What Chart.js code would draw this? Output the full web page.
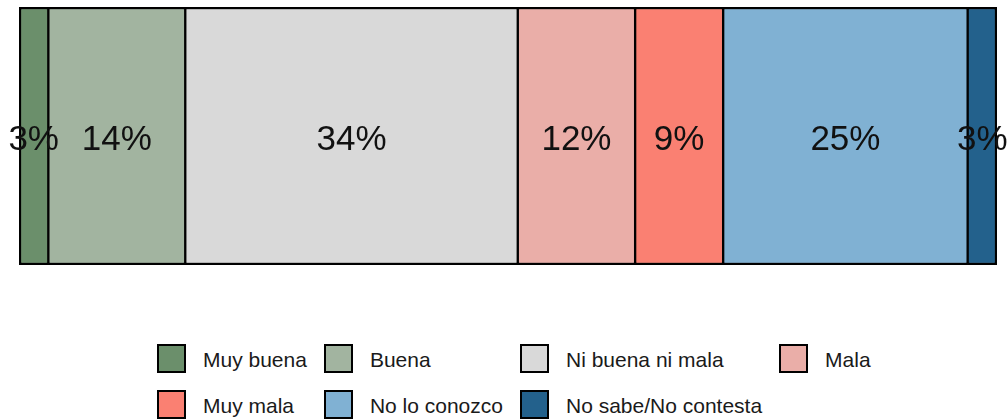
<!DOCTYPE html>
<html>
<head>
<meta charset="utf-8">
<script src="https://cdn.jsdelivr.net/npm/chart.js@4"></script>
<style>
  body { margin: 0; background: #fff; font-family: "Liberation Sans", Arial, sans-serif; }
  #wrap { position: relative; width: 1008px; height: 419px; overflow: hidden; }
  #chartBox { position: absolute; left: 0; top: 0; width: 1008px; height: 274px; }
  #legend {
    position: absolute; left: 157px; top: 344px;
    display: grid; grid-template-columns: repeat(4, auto);
    column-gap: 17px; row-gap: 17px;
  }
  .item { display: flex; align-items: center; height: 29px; }
  .swatch { width: 25px; height: 25px; border: 2px solid #000; box-sizing: content-box; }
  .item span { margin-left: 17px; font-size: 21px; line-height: 29px; padding-top: 2px; color: #1a1a1a; white-space: nowrap; }
</style>
</head>
<body>
<div id="wrap">
  <div id="chartBox"><canvas id="opinionChart"></canvas></div>
  <div id="legend"></div>
</div>
<script>
// --- Data ---
const categories = ["Muy buena", "Buena", "Ni buena ni mala", "Mala", "Muy mala", "No lo conozco", "No sabe/No contesta"];
const shares = [3, 14, 34, 12, 9, 25, 3];
const colors = ["#6b8f6b", "#a2b4a0", "#d9d9d9", "#eaaea8", "#fa8072", "#80b1d3", "#23618c"];

// --- Labels inside each segment ---
const segmentLabels = {
  id: "segmentLabels",
  afterDatasetsDraw(chart) {
    const ctx = chart.ctx;
    ctx.save();
    ctx.font = '35px "Liberation Sans", Arial, sans-serif';
    ctx.fillStyle = "#111";
    ctx.textAlign = "center";
    ctx.textBaseline = "middle";
    chart.data.datasets.forEach((ds, i) => {
      const bar = chart.getDatasetMeta(i).data[0];
      const cx = (bar.x + bar.base) / 2;
      ctx.fillText(ds.data[0] + "%", cx, bar.y + 4);
    });
    ctx.restore();
  }
};

const last = categories.length - 1;
const datasets = categories.map((name, i) => ({
  label: name,
  data: [shares[i]],
  backgroundColor: colors[i],
  borderColor: "#000",
  borderWidth: { top: 2.5, bottom: 2.5, left: i === 0 ? 2.5 : 1.5, right: i === last ? 2.5 : 1.5 },
  borderSkipped: false,
  barPercentage: 1,
  categoryPercentage: 1
}));

// --- Render Chart ---
new Chart(document.getElementById("opinionChart"), {
  type: "bar",
  data: { labels: [""], datasets },
  options: {
    indexAxis: "y",
    responsive: true,
    maintainAspectRatio: false,
    animation: false,
    layout: { padding: { left: 19, right: 11, top: 7, bottom: 9 } },
    plugins: { legend: { display: false }, tooltip: { enabled: false } },
    scales: {
      x: { stacked: true, min: 0, max: 100, display: false },
      y: { stacked: true, display: false }
    }
  },
  plugins: [segmentLabels]
});

// --- Legend (4 columns, filled row by row) ---
const legend = document.getElementById("legend");
categories.forEach((name, i) => {
  const item = document.createElement("div");
  item.className = "item";
  item.innerHTML = `<div class="swatch" style="background:${colors[i]}"></div><span>${name}</span>`;
  legend.appendChild(item);
});
</script>
</body>
</html>
